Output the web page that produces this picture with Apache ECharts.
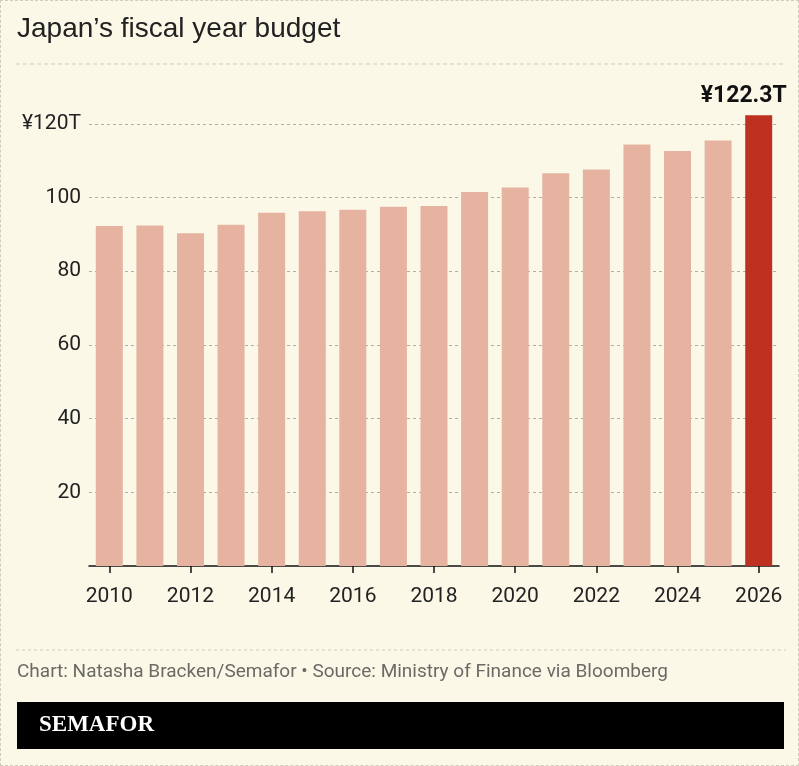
<!DOCTYPE html>
<html>
<head>
<meta charset="utf-8">
<script src="https://cdn.jsdelivr.net/npm/echarts@6/dist/echarts.min.js"></script>
<style>
  html, body { margin: 0; padding: 0; background: #FBF8E8; }
  #wrap { position: relative; width: 799px; height: 766px; box-sizing: border-box; border: 1px dashed #cfcbbd; background: #FBF8E8; overflow: hidden; }
  #chart { position: absolute; left: 0; top: 0; width: 799px; height: 766px; }
</style>
</head>
<body>
<div id="wrap"><div id="chart"></div></div>
<script>
const years = ['2010','2011','2012','2013','2014','2015','2016','2017','2018','2019','2020','2021','2022','2023','2024','2025','2026'];
const budget = [92.3, 92.4, 90.3, 92.6, 95.9, 96.3, 96.7, 97.5, 97.7, 101.5, 102.7, 106.6, 107.6, 114.4, 112.6, 115.5, 122.3];
const yTicks = [20, 40, 60, 80, 100, 120];
const titleText = 'Japan\u2019s fiscal year budget';
const creditText = 'Chart: Natasha Bracken/Semafor \u2022 Source: Ministry of Finance via Bloomberg';
const highlightLabel = '\u00a5122.3T';

const narrow = 'Roboto, "Noto Sans", sans-serif';
const chart = echarts.init(document.getElementById('chart'));
const last = years.length - 1;

chart.setOption({
  backgroundColor: 'transparent',
  animation: false,
  title: {
    text: titleText,
    left: 16, top: 14, padding: 0,
    textStyle: { fontFamily: '"Liberation Sans", Arial, sans-serif', fontSize: 28, fontWeight: 'normal', color: '#222' }
  },
  graphic: [
    { type: 'line', shape: { x1: 15, y1: 63, x2: 785, y2: 63 }, style: { stroke: '#cfcbbd', lineWidth: 1, lineDash: [4, 3] } },
    { type: 'line', shape: { x1: 15, y1: 649, x2: 785, y2: 649 }, style: { stroke: '#cfcbbd', lineWidth: 1, lineDash: [3, 3] } },
    { type: 'text', left: 16, top: 662, style: { text: creditText, font: '19px ' + narrow, fill: '#6b6b66' } },
    { type: 'rect', shape: { x: 16, y: 701, width: 767, height: 47 }, style: { fill: '#000' } },
    { type: 'text', left: 38, top: 713, style: { text: 'SEMAFOR', font: 'bold 23px "Liberation Serif", "DejaVu Serif", serif', fill: '#fff' } }
  ],
  grid: { left: 88, right: 21, top: 86, bottom: 201 },
  xAxis: {
    type: 'category',
    data: years,
    axisLine: { lineStyle: { color: '#111', width: 1.5 } },
    axisTick: { show: true, alignWithLabel: true, interval: 1, length: 7, lineStyle: { color: '#111', width: 1.5 } },
    axisLabel: { interval: 1, margin: 20, fontSize: 21, color: '#222', fontFamily: narrow }
  },
  yAxis: {
    type: 'value',
    min: 0, max: 130, interval: 20,
    axisLine: { show: false },
    axisTick: { show: false },
    axisLabel: {
      showMinLabel: false, showMaxLabel: false,
      margin: 8, fontSize: 21, color: '#222', fontFamily: narrow,
      formatter: v => (v === yTicks[yTicks.length - 1] ? '\u00a5' + v + 'T' : (yTicks.includes(v) ? String(v) : ''))
    },
    splitLine: { showMinLine: false, showMaxLine: false, lineStyle: { color: '#b0aea5', type: [3, 3], width: 1 } }
  },
  series: [{
    type: 'bar',
    data: budget.map((v, i) => i === last ? {
      value: v,
      itemStyle: { color: '#BE3121' },
      label: { show: true, position: 'top', distance: 8, offset: [-15, 0], formatter: highlightLabel, fontSize: 23, fontWeight: 'bold', color: '#111', fontFamily: narrow }
    } : v),
    barWidth: 27,
    itemStyle: { color: '#E5B3A0' }
  }]
});
</script>
</body>
</html>
